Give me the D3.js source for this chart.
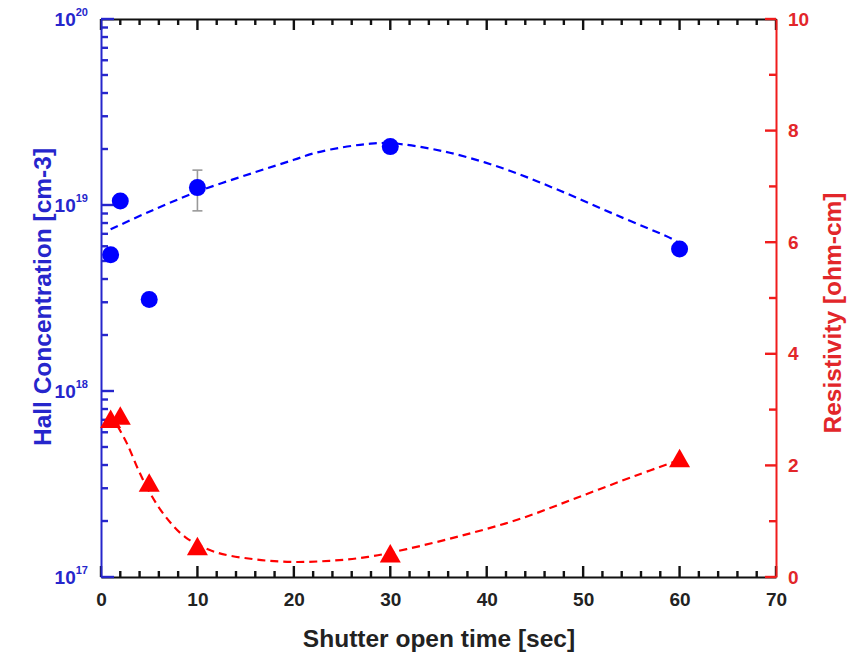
<!DOCTYPE html>
<html>
<head>
<meta charset="utf-8">
<script src="https://cdn.jsdelivr.net/npm/d3@7"></script>
<style>
  html, body { margin: 0; padding: 0; background: #fff; }
  svg { display: block; font-family: "Liberation Sans", Arial, sans-serif; font-weight: bold; }
</style>
</head>
<body>
<svg id="chart" width="850" height="659"></svg>
<script>
// Measured samples
const shutterTime = [1, 2, 5, 10, 30, 60];
const hallConc = [5.4e18, 1.05e19, 3.1e18, 1.24e19, 2.06e19, 5.8e18];
const resistivity = [2.83, 2.89, 1.69, 0.55, 0.42, 2.13];

// Error bar on the 10 s sample
const errTime = [10];
const errLow = [9.3e18];
const errHigh = [1.54e19];

// Trend curves (dashed)
const hallFitX = [1, 5, 10, 15.8, 20, 22.1, 25, 27.7, 30, 35.6, 41.6, 47.5, 53.5, 59.4, 60];
const hallFitY = [7.4e18, 9.2e18, 1.18e19, 1.49e19, 1.75e19, 1.9e19, 2.04e19, 2.13e19, 2.15e19, 1.94e19, 1.58e19, 1.2e19, 8.8e18, 6.5e18, 6.2e18];
const resFitX = [1.7, 2.7, 3.9, 5.1, 6.7, 8.7, 11.8, 15.8, 19.7, 23.7, 27.7, 31.7, 37.6, 43.6, 49.5, 55.5, 59.4];
const resFitY = [2.71, 2.39, 1.91, 1.5, 1.08, 0.72, 0.45, 0.32, 0.27, 0.29, 0.36, 0.5, 0.75, 1.05, 1.43, 1.82, 2.06];

// Tick values
const xTicksMajor = [0, 10, 20, 30, 40, 50, 60, 70];
const leftExponents = [17, 18, 19, 20];
const rightTicksMajor = [0, 2, 4, 6, 8, 10];

const BLUE = "#0000ff", BLUE_AX = "#2626cc";
const RED = "#ff0000", RED_AX = "#f01c1c", RED_TXT = "#e2262a";
const INK = "#111";

const svg = d3.select("#chart");
const L = 101, T = 19, W = 675, H = 558;

const x = d3.scaleLinear().domain([0, 70]).range([L, L + W]);
const yL = d3.scaleLog().domain([1e17, 1e20]).range([T + H, T]);
const yR = d3.scaleLinear().domain([0, 10]).range([T + H, T]);

const xMinor = d3.range(0, 71, 2).filter(v => v % 10 !== 0);
const leftMajor = leftExponents.map(e => Math.pow(10, e));
const leftMinor = [];
leftExponents.slice(0, -1).forEach(e => { for (let m = 2; m <= 9; m++) leftMinor.push(m * Math.pow(10, e)); });
const rightMinor = d3.range(1, 10, 2);

// inward tick marks drawn as small rectangles from the scales
function vTicks(vals, len, yPos, dir, color) {
  svg.append("g").selectAll("rect").data(vals).join("rect")
    .attr("x", d => x(d) - 1.2).attr("width", 2.4)
    .attr("y", dir > 0 ? yPos : yPos - len).attr("height", len)
    .attr("fill", color);
}
function hTicks(scale, vals, len, xPos, dir, color) {
  svg.append("g").selectAll("rect").data(vals).join("rect")
    .attr("y", d => scale(d) - 1.2).attr("height", 2.4)
    .attr("x", dir > 0 ? xPos : xPos - len).attr("width", len)
    .attr("fill", color);
}

// bottom axis with labels
const gB = svg.append("g").attr("transform", `translate(0,${T + H})`)
  .call(d3.axisBottom(x).tickValues(xTicksMajor).tickSize(0).tickPadding(16).tickFormat(d3.format("d")));
gB.select(".domain").attr("stroke", INK).attr("stroke-width", 2);
gB.selectAll(".tick text").attr("font-size", 19).attr("font-weight", "bold").attr("fill", "#222")
  .attr("font-family", "Liberation Sans, Arial, sans-serif");
vTicks(xTicksMajor, 11, T + H, -1, INK);
vTicks(xMinor, 6, T + H, -1, INK);

// top axis
const gT = svg.append("g").attr("transform", `translate(0,${T})`)
  .call(d3.axisTop(x).tickValues([]).tickSize(0));
gT.select(".domain").attr("stroke", INK).attr("stroke-width", 2);
vTicks(xTicksMajor, 11, T, 1, INK);
vTicks(xMinor, 6, T, 1, INK);

// left log axis
const gL = svg.append("g").attr("transform", `translate(${L},0)`)
  .call(d3.axisLeft(yL).tickValues([]).tickSize(0));
gL.select(".domain").attr("stroke", BLUE_AX).attr("stroke-width", 2);
hTicks(yL, leftMajor, 13, L, 1, BLUE_AX);
hTicks(yL, leftMinor, 7, L, 1, BLUE_AX);
leftExponents.forEach(e => {
  const t = svg.append("text").attr("x", 88).attr("y", yL(Math.pow(10, e)) + 7)
    .attr("text-anchor", "end").attr("fill", BLUE_AX).attr("font-size", 19);
  t.append("tspan").text("10");
  t.append("tspan").attr("dy", -10).attr("font-size", 11).text(String(e));
});

// right axis with labels
const gR = svg.append("g").attr("transform", `translate(${L + W},0)`)
  .call(d3.axisRight(yR).tickValues(rightTicksMajor).tickSize(0).tickPadding(12).tickFormat(d3.format("d")));
gR.select(".domain").attr("stroke", RED_AX).attr("stroke-width", 2);
gR.selectAll(".tick text").attr("fill", RED_TXT).attr("font-size", 19).attr("font-weight", "bold")
  .attr("font-family", "Liberation Sans, Arial, sans-serif");
hTicks(yR, rightTicksMajor, 11, L + W, -1, RED_AX);
hTicks(yR, rightMinor, 7, L + W, -1, RED_AX);

// dashed trend curves
const hallLine = d3.line().x(d => x(d[0])).y(d => yL(d[1])).curve(d3.curveCatmullRom);
svg.append("path").datum(hallFitX.map((v, i) => [v, hallFitY[i]]))
  .attr("d", hallLine).attr("fill", "none").attr("stroke", BLUE).attr("stroke-width", 2.2).attr("stroke-dasharray", "8,5");
const resLine = d3.line().x(d => x(d[0])).y(d => yR(d[1])).curve(d3.curveCatmullRom);
svg.append("path").datum(resFitX.map((v, i) => [v, resFitY[i]]))
  .attr("d", resLine).attr("fill", "none").attr("stroke", RED).attr("stroke-width", 2.2).attr("stroke-dasharray", "8,5");

// error bar
errTime.forEach((t, i) => {
  const g = svg.append("g").attr("stroke", "#999").attr("stroke-width", 1.6);
  g.append("line").attr("x1", x(t)).attr("x2", x(t)).attr("y1", yL(errLow[i])).attr("y2", yL(errHigh[i]));
  [errLow[i], errHigh[i]].forEach(v => g.append("line").attr("x1", x(t) - 5).attr("x2", x(t) + 5).attr("y1", yL(v)).attr("y2", yL(v)));
});

// circles: Hall concentration
svg.append("g").selectAll("circle").data(shutterTime).join("circle")
  .attr("cx", d => x(d)).attr("cy", (d, i) => yL(hallConc[i])).attr("r", 8.5).attr("fill", BLUE);

// triangles: resistivity
svg.append("g").selectAll("path").data(shutterTime).join("path")
  .attr("transform", (d, i) => `translate(${x(d)},${yR(resistivity[i])})`)
  .attr("d", "M0,-9.5L10.5,9L-10.5,9Z").attr("fill", RED);

// axis titles
svg.append("text").attr("transform", `translate(51,297) rotate(-90)`)
  .attr("text-anchor", "middle").attr("fill", BLUE_AX).attr("font-size", 24.5).text("Hall Concentration [cm-3]");
svg.append("text").attr("transform", `translate(841,313) rotate(-90)`)
  .attr("text-anchor", "middle").attr("fill", RED_TXT).attr("font-size", 24.5).text("Resistivity [ohm-cm]");
svg.append("text").attr("x", 439).attr("y", 647)
  .attr("text-anchor", "middle").attr("fill", "#222").attr("font-size", 24.5).text("Shutter open time [sec]");
</script>
</body>
</html>
